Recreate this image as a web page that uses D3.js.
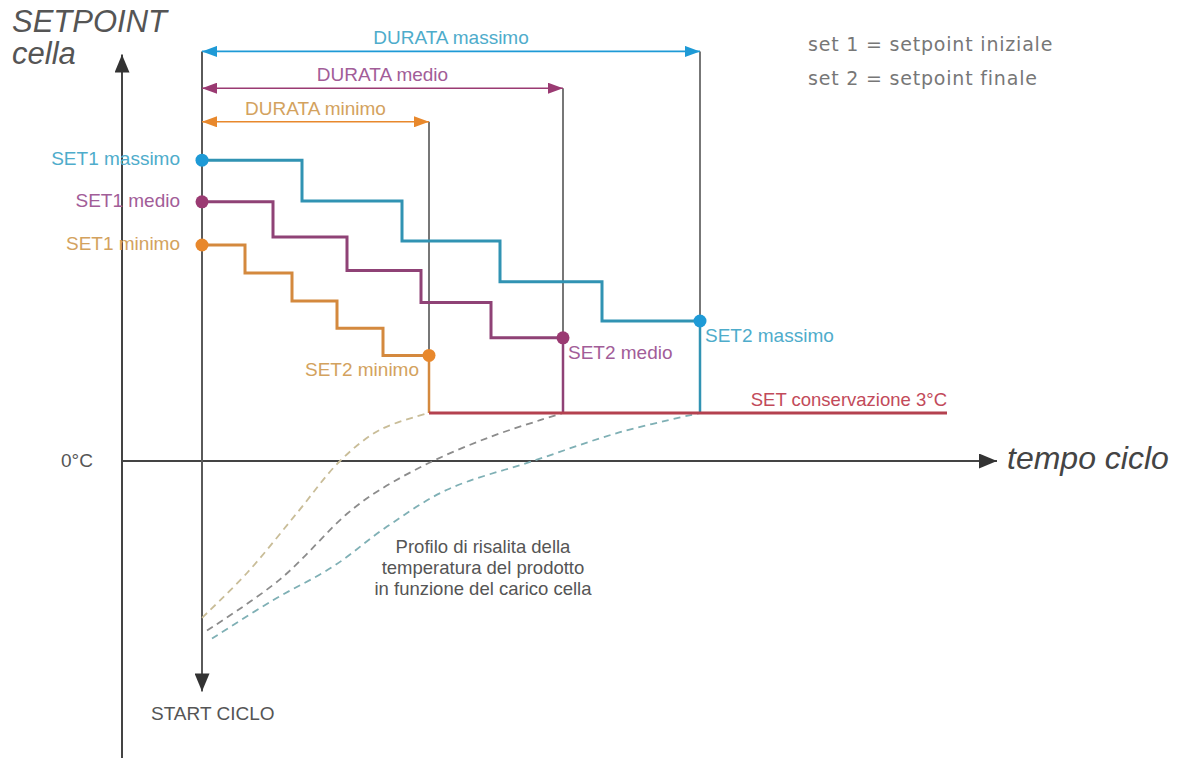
<!DOCTYPE html>
<html>
<head>
<meta charset="utf-8">
<script src="https://cdn.jsdelivr.net/npm/d3@7"></script>
<style>
  body { margin: 0; background: #fff; }
</style>
</head>
<body>
<svg id="chart"></svg>
<script>
// Time in arbitrary units (0 = start of cycle), setpoint in °C
const profileNames = ["massimo", "medio", "minimo"]

const timeMassimo = [0, 20, 40, 59.6, 80, 99.6]
const setMassimo = [18.8, 16.25, 13.75, 11.2, 8.75]

const timeMedio = [0, 14.2, 29, 43.8, 57.8, 72.2]
const setMedio = [16.2, 14, 11.9, 9.9, 7.7]

const timeMinimo = [0, 8.6, 18, 27, 36.2, 45.4]
const setMinimo = [13.5, 11.75, 10, 8.3, 6.6]

const setConservazione = 3

// Product temperature rise (dashed curves)
const riseTimeMassimo = [2, 14.2, 26.2, 37, 49, 66.2, 83.6, 99.6]
const riseTempMassimo = [-11.1, -8.7, -6.6, -4.1, -1.8, 0, 1.8, 3]
const riseTimeMedio = [1, 15.6, 29, 35.6, 46.2, 57.6, 67.6, 72.2]
const riseTempMedio = [-10.6, -7.4, -3.3, -1.8, 0, 1.5, 2.55, 3]
const riseTimeMinimo = [0, 9, 19, 27.6, 35.6, 45.4]
const riseTempMinimo = [-9.8, -7.0, -3.25, 0, 1.95, 3]

// Levels of the DURATA arrows, axis extents
const durataLevels = [25.6, 23.3, 21.2]
const axisTime = [-16, 159]
const axisTemp = [-18.6, 25.4]
const startLine = [25.6, -14.4]
const conservazioneEnd = 149

const width = 1183
const height = 758
const font = "'Liberation Sans', Arial, sans-serif"

const svg = d3.select("#chart")
              .attr("width", width)
              .attr("height", height)
              .style("font-family", font)

let x = d3.scaleLinear().domain([0, 100]).range([202, 702])
let y = d3.scaleLinear().domain([0, 3]).range([461, 413])

const colors = {
    massimo: {line: "#3193b3", dot: "#1e9ad6", text: "#4eaccb", dash: "#7fb0b5"},
    medio:   {line: "#8f4276", dot: "#9a3a72", text: "#a25d98", dash: "#8c8c8c"},
    minimo:  {line: "#d4893e", dot: "#e8882c", text: "#d3a25e", dash: "#c9bd98"}
}
const series = [
    {name: "massimo", t: timeMassimo, s: setMassimo, rt: riseTimeMassimo, rs: riseTempMassimo},
    {name: "medio", t: timeMedio, s: setMedio, rt: riseTimeMedio, rs: riseTempMedio},
    {name: "minimo", t: timeMinimo, s: setMinimo, rt: riseTimeMinimo, rs: riseTempMinimo}
]

// Arrow markers
const defs = svg.append("defs")
function marker(id, color, w, h) {
    defs.append("marker")
        .attr("id", id)
        .attr("markerUnits", "userSpaceOnUse")
        .attr("viewBox", `0 0 ${w} ${h}`)
        .attr("refX", w).attr("refY", h / 2)
        .attr("markerWidth", w).attr("markerHeight", h)
        .attr("orient", "auto-start-reverse")
        .append("path")
        .attr("d", `M0,0 L${w},${h / 2} L0,${h} Z`)
        .attr("fill", color)
}
marker("arrAxis", "#333", 18, 15)
profileNames.forEach(n => marker("arr-" + n, colors[n].dot, 15, 11))

const lineColor = "#5a5a5a"

// Axes
svg.append("line")
   .attr("x1", x(axisTime[0])).attr("x2", x(axisTime[0]))
   .attr("y1", y(axisTemp[0])).attr("y2", y(axisTemp[1]))
   .attr("stroke", "#444").attr("stroke-width", 2)
   .attr("marker-end", "url(#arrAxis)")

svg.append("line")
   .attr("x1", x(axisTime[0])).attr("x2", x(axisTime[1]))
   .attr("y1", y(0)).attr("y2", y(0))
   .attr("stroke", "#444").attr("stroke-width", 2)
   .attr("marker-end", "url(#arrAxis)")

// start of cycle line
svg.append("line")
   .attr("x1", x(0)).attr("x2", x(0))
   .attr("y1", y(startLine[0])).attr("y2", y(startLine[1]))
   .attr("stroke", lineColor).attr("stroke-width", 2)
   .attr("marker-end", "url(#arrAxis)")

// dashed product temperature curves
const riseLine = d3.line().x(d => x(d[0])).y(d => y(d[1])).curve(d3.curveCatmullRom)
svg.append("g").selectAll("path")
   .data(series)
   .enter()
   .append("path")
   .attr("d", d => riseLine(d.rt.map((t, i) => [t, d.rs[i]])))
   .attr("fill", "none")
   .attr("stroke", d => colors[d.name].dash)
   .attr("stroke-width", 1.8)
   .attr("stroke-dasharray", "7,5")

// vertical lines at end of each duration (gray above, colored below SET2)
series.forEach((d, i) => {
    let tEnd = d.t[d.t.length - 1]
    let sEnd = d.s[d.s.length - 1]
    svg.append("line")
       .attr("x1", x(tEnd)).attr("x2", x(tEnd))
       .attr("y1", y(durataLevels[i])).attr("y2", y(sEnd))
       .attr("stroke", "#777").attr("stroke-width", 2)
    svg.append("line")
       .attr("x1", x(tEnd)).attr("x2", x(tEnd))
       .attr("y1", y(sEnd)).attr("y2", y(setConservazione))
       .attr("stroke", colors[d.name].line).attr("stroke-width", 2.5)
})

// conservation line
svg.append("line")
   .attr("x1", x(timeMinimo[timeMinimo.length - 1])).attr("x2", x(conservazioneEnd))
   .attr("y1", y(setConservazione)).attr("y2", y(setConservazione))
   .attr("stroke", "#b4414f").attr("stroke-width", 3)

svg.append("text")
   .attr("x", x(conservazioneEnd)).attr("y", y(setConservazione) - 12)
   .attr("text-anchor", "end").attr("dominant-baseline", "middle")
   .attr("font-size", 18.5).attr("fill", "#c24a5a")
   .text("SET conservazione 3°C")

// step lines
const stepLine = d3.line().x(d => x(d[0])).y(d => y(d[1])).curve(d3.curveStepAfter)
series.forEach(d => {
    let pts = d.s.map((s, i) => [d.t[i], s])
    pts.push([d.t[d.t.length - 1], d.s[d.s.length - 1]])
    svg.append("path")
       .attr("d", stepLine(pts))
       .attr("fill", "none")
       .attr("stroke", colors[d.name].line)
       .attr("stroke-width", 3)
})

// duration arrows
series.forEach((d, i) => {
    let tEnd = d.t[d.t.length - 1]
    svg.append("line")
       .attr("x1", x(0)).attr("x2", x(tEnd))
       .attr("y1", y(durataLevels[i])).attr("y2", y(durataLevels[i]))
       .attr("stroke", colors[d.name].dot).attr("stroke-width", 1.6)
       .attr("marker-start", `url(#arr-${d.name})`)
       .attr("marker-end", `url(#arr-${d.name})`)
    svg.append("text")
       .attr("x", x(tEnd / 2)).attr("y", y(durataLevels[i]) - 7)
       .attr("text-anchor", "middle")
       .attr("font-size", 19).attr("fill", colors[d.name].text)
       .text("DURATA " + d.name)
})

// dots and SET labels
series.forEach(d => {
    let tEnd = d.t[d.t.length - 1]
    let sStart = d.s[0]
    let sEnd = d.s[d.s.length - 1]
    svg.append("circle").attr("cx", x(0)).attr("cy", y(sStart)).attr("r", 6.5)
       .attr("fill", colors[d.name].dot)
    svg.append("circle").attr("cx", x(tEnd)).attr("cy", y(sEnd)).attr("r", 6.5)
       .attr("fill", colors[d.name].dot)
    svg.append("text")
       .attr("x", x(0) - 22).attr("y", y(sStart))
       .attr("text-anchor", "end").attr("dominant-baseline", "middle")
       .attr("font-size", 19).attr("fill", colors[d.name].text)
       .text("SET1 " + d.name)
    let left = d.name == "minimo"
    svg.append("text")
       .attr("x", left ? x(tEnd) - 10 : x(tEnd) + 5)
       .attr("y", y(sEnd) + 16)
       .attr("text-anchor", left ? "end" : "start")
       .attr("dominant-baseline", "middle")
       .attr("font-size", 19).attr("fill", colors[d.name].text)
       .text("SET2 " + d.name)
})

// axis titles
svg.append("text").attr("x", 12).attr("y", 32)
   .attr("font-size", 31).attr("font-style", "italic").attr("fill", "#555")
   .text("SETPOINT")
svg.append("text").attr("x", 12).attr("y", 64)
   .attr("font-size", 31).attr("font-style", "italic").attr("fill", "#555")
   .text("cella")
svg.append("text").attr("x", x(axisTime[1]) + 10).attr("y", y(0))
   .attr("dominant-baseline", "middle")
   .attr("font-size", 32).attr("font-style", "italic").attr("fill", "#444")
   .text("tempo ciclo")
svg.append("text").attr("x", 61).attr("y", y(0) + 1)
   .attr("dominant-baseline", "middle")
   .attr("font-size", 19).attr("fill", "#555")
   .text("0°C")
svg.append("text").attr("x", 151).attr("y", y(startLine[1]) + 24)
   .attr("dominant-baseline", "middle")
   .attr("font-size", 19).attr("fill", "#555")
   .text("START CICLO")

// note about product profile
const noteLines = ["Profilo di risalita della", "temperatura del prodotto", "in funzione del carico cella"]
svg.append("g").selectAll("text")
   .data(noteLines)
   .enter()
   .append("text")
   .attr("x", 483)
   .attr("y", (d, i) => 548 + i * 21)
   .attr("text-anchor", "middle").attr("dominant-baseline", "middle")
   .attr("font-size", 18.5).attr("fill", "#555")
   .text(d => d)

// legend top right
const legendLines = ["set 1 = setpoint iniziale", "set 2 = setpoint finale"]
svg.append("g").selectAll("text")
   .data(legendLines)
   .enter()
   .append("text")
   .attr("x", 808)
   .attr("y", (d, i) => 51 + i * 34)
   .style("font-family", "'DejaVu Sans', Verdana, sans-serif")
   .style("letter-spacing", "0.8px")
   .attr("font-size", 19).attr("fill", "#777")
   .text(d => d)
</script>
</body>
</html>
